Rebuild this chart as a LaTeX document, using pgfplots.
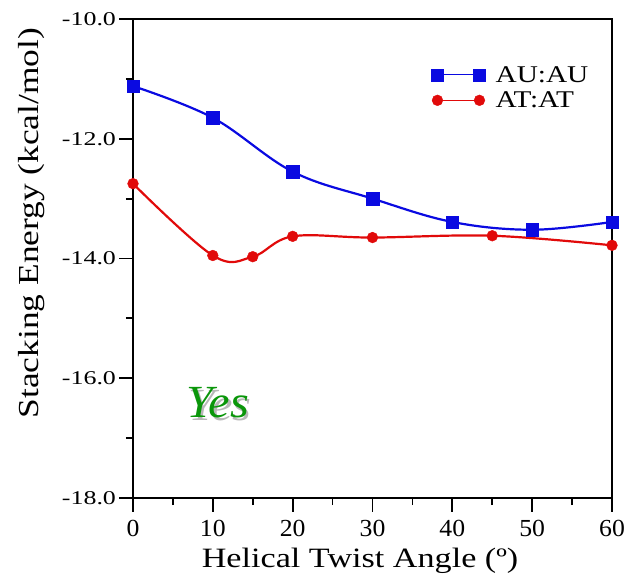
\documentclass[border=0pt]{standalone}
\usepackage{pgfplots}
\pgfplotsset{compat=1.18}
\usepackage{fontspec}
\setmainfont{Liberation Serif}[FakeStretch=1.22]
\newfontfamily\yesfont{Liberation Serif}[FakeStretch=1.05]
\newfontfamily\yticksfont{Liberation Serif}[FakeStretch=1.33]
\newfontfamily\xticksfont{Liberation Serif}[FakeStretch=1.05]

\definecolor{aublue}{RGB}{10,10,225}
\definecolor{atred}{RGB}{225,10,10}
\definecolor{yesgreen}{RGB}{10,150,10}

\begin{document}
\begin{tikzpicture}
\begin{axis}[
  scale only axis, width=479pt, height=479pt,
  xmin=0, xmax=60, ymin=-18, ymax=-10,
  xtick={0,10,...,60}, minor x tick num=1,
  ytick={-18,-16,...,-10}, minor y tick num=1,
  tick pos=left, tick align=outside,
  major tick length=13.5pt, minor tick length=7pt,
  axis line style={line width=1.8pt},
  every tick/.style={black, line width=1.8pt},
  /pgf/number format/assume math mode=true,
  yticklabel style={font=\yticksfont\fontsize{19.5}{19.5}\selectfont,
    /pgf/number format/.cd, fixed, fixed zerofill, precision=1},
  xticklabel style={font=\xticksfont\fontsize{24.5}{24.5}\selectfont, yshift=-5pt},
  xlabel={Helical Twist Angle (º)},
  ylabel={Stacking Energy (kcal/mol)},
  every axis x label/.style={at={(axis description cs:0.474,-0.146)}, anchor=base, font=\fontsize{28}{28}\selectfont},
  every axis y label/.style={at={(axis description cs:-0.211,0.574)}, rotate=90, anchor=center, font=\fontsize{29}{29}\selectfont},
  legend style={at={(0.616,0.91)}, anchor=north west, draw=none, fill=none,
    font=\fontsize{24}{24}\selectfont, row sep=4pt,
    /tikz/every odd column/.append style={column sep=8pt}},
  legend cell align=left,
  legend image code/.code={
    \draw[#1, line width=1pt] (0pt,0pt) -- (42pt,0pt);
    \draw[#1] plot[only marks] coordinates {(0pt,0pt) (42pt,0pt)};
  },
]
\addplot[aublue, line width=2.2pt, smooth, tension=0.6,
  mark=square*, mark size=6.2pt, mark options={solid, line width=0.4pt, fill=aublue}]
  coordinates {
    (0,-11.12) (10,-11.65) (20,-12.55) (30,-13.00)
    (40,-13.39) (50,-13.52) (60,-13.39)
  };
\addlegendentry{AU:AU}
\addplot[atred, line width=2.2pt, smooth, tension=0.6,
  mark=*, mark size=5.4pt, mark options={solid, line width=0.4pt, fill=atred}]
  coordinates {
    (0,-12.75) (10,-13.95) (15,-13.97) (20,-13.63)
    (30,-13.65) (45,-13.62) (60,-13.78)
  };
\addlegendentry{AT:AT}
% script label with a soft drop shadow
\node[font=\yesfont\itshape\fontsize{46}{46}\selectfont]
  at (axis cs:10.6,-16.43)
  {\makebox[0pt][l]{\hspace{2.5pt}\raisebox{-2.5pt}{\color{black!28}Yes}}\color{yesgreen}Yes};
\end{axis}
\pgfresetboundingbox
\path ([shift={(-133pt,-78pt)}]current axis.south west) rectangle ([shift={(15pt,19pt)}]current axis.north east);
\end{tikzpicture}
\end{document}
